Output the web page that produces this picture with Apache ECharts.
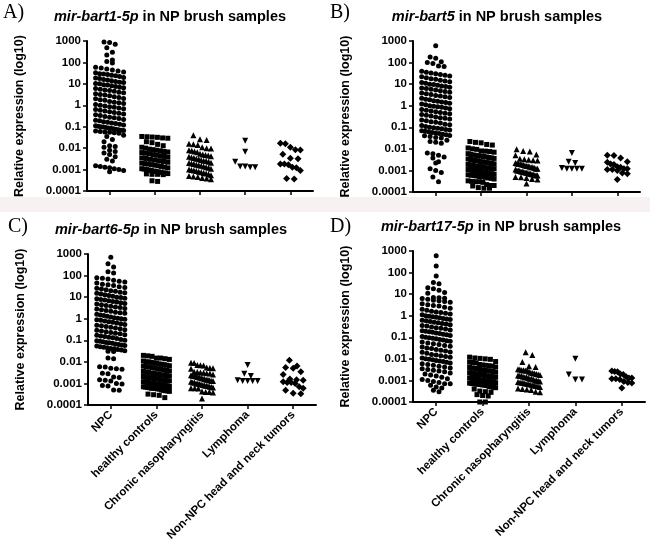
<!DOCTYPE html>
<html><head><meta charset="utf-8">
<script src="https://cdn.jsdelivr.net/npm/echarts@6/dist/echarts.min.js"></script>
<style>html,body{margin:0;padding:0;background:#fff}#c{width:650px;height:544px}</style>
</head><body><div id="c"></div>
<script>
// ---------- labels ----------
const categories = ['NPC', 'healthy controls', 'Chronic nasopharyngitis', 'Lymphoma', 'Non-NPC head and neck tumors'];
const yTickLabels = ['0.0001', '0.001', '0.01', '0.1', '1', '10', '100', '1000'];
const panelLetters = ['A)', 'B)', 'C)', 'D)'];
const panelGenes = ['mir-bart1-5p', 'mir-bart5', 'mir-bart6-5p', 'mir-bart17-5p'];
const panelSuffix = ' in NP brush samples';
const yAxisTitle = 'Relative expression (log10)';

// ---------- panel A: mir-bart1-5p ----------
const npcA = [900, 850, 700, 480, 300, 220, 130, 110, 95,
  60, 55, 50, 44, 40, 36, 33, 30, 29, 27, 25, 24, 22, 20, 19, 18, 16, 15, 14, 13, 12, 11.5, 10.5, 10,
  9.2, 8.8, 8.1, 7.6, 7, 6.5, 6.1, 5.6, 5.2, 4.9, 4.5, 4.1, 3.8, 3.5, 3.2, 3, 2.8, 2.5, 2.3, 2.1, 2, 1.8, 1.7, 1.5, 1.4, 1.3, 1.2, 1.1, 1,
  0.93, 0.86, 0.8, 0.74, 0.68, 0.63, 0.58, 0.54, 0.5, 0.46, 0.42, 0.39, 0.36, 0.33, 0.3, 0.28, 0.26, 0.24, 0.22, 0.2, 0.19, 0.17, 0.16, 0.15, 0.14, 0.13, 0.12, 0.11, 0.105, 0.1,
  0.097, 0.092, 0.088, 0.084, 0.08, 0.076, 0.072, 0.069, 0.066, 0.063, 0.06, 0.057, 0.055, 0.052, 0.05,
  0.04, 0.035, 0.025, 0.02, 0.013, 0.012, 0.011, 0.008, 0.007, 0.006, 0.005, 0.004, 0.003, 0.0025, 0.0015, 0.0014, 0.0013, 0.0012, 0.0011, 0.001, 0.0009, 0.0008];
const healthyA = [0.035, 0.034, 0.033, 0.032, 0.03, 0.029, 0.02, 0.018, 0.015, 0.013, 0.011, 0.01,
  0.009, 0.0085, 0.008, 0.0075, 0.007, 0.0066, 0.0062, 0.0058, 0.0055, 0.005, 0.0047, 0.0044, 0.0041, 0.0038, 0.0035, 0.0033, 0.003, 0.0028, 0.0026, 0.0024, 0.0022, 0.002, 0.0019, 0.0018, 0.0017, 0.0016, 0.0015, 0.0014, 0.0013, 0.0012, 0.0011, 0.00105, 0.001,
  0.00095, 0.0009, 0.00085, 0.0008, 0.00078, 0.00075, 0.0007, 0.00068, 0.00065, 0.00063, 0.0006, 0.0006, 0.00058,
  0.0003, 0.00028];
const chronicA = [0.04, 0.026, 0.024, 0.016, 0.015, 0.014, 0.011, 0.01, 0.0095, 0.008, 0.0075, 0.007, 0.0065,
  0.0055, 0.005, 0.0048, 0.0045, 0.0042, 0.004, 0.0037, 0.0035, 0.0032, 0.003, 0.0028, 0.0026, 0.0025, 0.0023, 0.0021, 0.002, 0.0019, 0.0018, 0.0017, 0.0016, 0.0015, 0.0014, 0.0013, 0.0012, 0.0011, 0.001,
  0.00095, 0.0009, 0.00085, 0.0008, 0.00075, 0.0007, 0.00065, 0.0006, 0.00055, 0.0005, 0.00048, 0.00045, 0.0004, 0.00038, 0.00035];
const lymphomaA = [0.022, 0.0067, 0.0023, 0.0014, 0.0014, 0.0013, 0.0013];
const nonNpcA = [0.017, 0.016, 0.011, 0.0085, 0.0082, 0.0052, 0.0034, 0.0032, 0.0018, 0.0018, 0.0017, 0.0013, 0.0012, 0.0009, 0.00038, 0.00036];

// ---------- panel B: mir-bart5 ----------
const npcB = [600, 180, 160, 110, 100, 90, 70, 65,
  40, 36, 33, 30, 28, 26, 24, 22, 20, 18, 17, 15, 14, 13, 12, 11, 10,
  9.5, 9, 8.3, 7.7, 7.2, 6.7, 6.2, 5.8, 5.3, 4.9, 4.6, 4.2, 3.9, 3.6, 3.3, 3, 2.8, 2.6, 2.4, 2.2, 2, 1.9, 1.7, 1.6, 1.5, 1.4, 1.3, 1.2, 1.1, 1,
  0.95, 0.9, 0.84, 0.78, 0.72, 0.67, 0.62, 0.57, 0.53, 0.49, 0.45, 0.42, 0.39, 0.36, 0.33, 0.3, 0.28, 0.26, 0.24, 0.22, 0.2, 0.18, 0.17, 0.16, 0.14, 0.13, 0.12, 0.11, 0.1,
  0.095, 0.09, 0.085, 0.08, 0.075, 0.07, 0.066, 0.062, 0.058, 0.055, 0.052, 0.048, 0.045, 0.042, 0.04, 0.037, 0.034, 0.032,
  0.025, 0.022, 0.02, 0.018, 0.0065, 0.006, 0.005, 0.0042, 0.0038, 0.0025, 0.0022, 0.0012, 0.001, 0.0008, 0.0005, 0.0003];
const healthyB = [0.022, 0.02, 0.019, 0.016, 0.015, 0.011, 0.01, 0.0095, 0.008, 0.0078, 0.0075, 0.007, 0.006, 0.0055, 0.0052, 0.005,
  0.0048, 0.0046, 0.0044, 0.0042, 0.004, 0.0038, 0.0036, 0.0034, 0.0032, 0.003, 0.0029, 0.0028, 0.0026, 0.0025, 0.0024, 0.0023, 0.0022, 0.0021, 0.002, 0.0019, 0.0018, 0.0017, 0.0016, 0.0015, 0.0015, 0.0014, 0.0013, 0.0013, 0.0012, 0.0012, 0.0011, 0.0011, 0.001, 0.001,
  0.00095, 0.0009, 0.0009, 0.00085, 0.0008, 0.0008, 0.00075, 0.0007, 0.0007, 0.00066, 0.00063, 0.0006, 0.00058, 0.00055, 0.00052, 0.0005, 0.00048, 0.00045, 0.00043, 0.0004,
  0.00033, 0.00031, 0.0003, 0.0003, 0.00028, 0.00022, 0.0002, 0.0002, 0.00019, 0.00016, 0.00015, 0.00015];
const chronicB = [0.0095, 0.008, 0.0075, 0.0055, 0.005, 0.0035, 0.0033, 0.0031, 0.003, 0.0029, 0.0022, 0.0021, 0.002, 0.002, 0.0019, 0.0018,
  0.0017, 0.0016, 0.0016, 0.0015, 0.0014, 0.0014, 0.0013, 0.0012, 0.0012, 0.0011, 0.001, 0.001, 0.00095, 0.0009, 0.00088, 0.00085, 0.0008, 0.00078, 0.00075, 0.0007, 0.0007, 0.00066, 0.00063, 0.0006, 0.0006, 0.00058,
  0.0005, 0.00048, 0.00045, 0.0004, 0.00038, 0.00025];
const lymphomaB = [0.0065, 0.0025, 0.0022, 0.0013, 0.0012, 0.0012, 0.0012, 0.0012];
const nonNpcB = [0.0051, 0.0049, 0.0038, 0.0025, 0.0024, 0.002, 0.0019, 0.0015, 0.0014, 0.0012, 0.0012, 0.0011, 0.0011, 0.001, 0.00076, 0.0007, 0.00038];

// ---------- panel C: mir-bart6-5p ----------
const npcC = [700, 350, 250, 150, 130, 80, 75, 70, 60, 55, 50, 45, 40, 38, 35,
  30, 28, 26, 24, 22, 20, 19, 17, 16, 15, 14, 13, 12, 11, 10,
  9.5, 9, 8.4, 7.8, 7.3, 6.8, 6.3, 5.9, 5.5, 5.1, 4.8, 4.4, 4.1, 3.8, 3.5, 3.3, 3, 2.8, 2.6, 2.4, 2.2, 2, 1.9, 1.8, 1.6, 1.5, 1.4, 1.3, 1.2, 1.1, 1.05, 1,
  0.95, 0.9, 0.84, 0.78, 0.73, 0.68, 0.63, 0.58, 0.54, 0.5, 0.47, 0.43, 0.4, 0.37, 0.34, 0.31, 0.29, 0.27, 0.25, 0.23, 0.21, 0.2, 0.18, 0.17, 0.16, 0.15, 0.14, 0.13, 0.12, 0.11, 0.1,
  0.095, 0.09, 0.085, 0.08, 0.076, 0.072, 0.068, 0.064, 0.06, 0.057, 0.054, 0.05, 0.047, 0.045, 0.042, 0.04, 0.037, 0.035, 0.033, 0.031, 0.03,
  0.015, 0.014, 0.006, 0.0058, 0.005, 0.0048, 0.0045, 0.003, 0.0028, 0.002, 0.0019, 0.0015, 0.0014, 0.0013, 0.001, 0.00095, 0.0008, 0.00075, 0.0005, 0.00048];
const healthyC = [0.02, 0.019, 0.018, 0.015, 0.015, 0.014, 0.013, 0.011, 0.01, 0.01, 0.0095, 0.009,
  0.0085, 0.008, 0.0077, 0.0074, 0.007, 0.0066, 0.0063, 0.006, 0.0057, 0.0054, 0.0051, 0.0048, 0.0045, 0.0043, 0.004, 0.0038, 0.0036, 0.0034, 0.0032, 0.003, 0.0029, 0.0028, 0.0026, 0.0025, 0.0024, 0.0023, 0.0022, 0.0021, 0.002, 0.0019, 0.0018, 0.0018, 0.0017, 0.0016, 0.0016, 0.0015, 0.0014, 0.0014, 0.0013, 0.0013, 0.0012, 0.0012, 0.0011, 0.0011, 0.001, 0.001,
  0.00097, 0.00093, 0.0009, 0.00087, 0.00084, 0.0008, 0.00078, 0.00075, 0.00072, 0.0007, 0.00068, 0.00065, 0.00063, 0.0006, 0.0006, 0.00058, 0.00056, 0.00055,
  0.0005, 0.00048, 0.00046, 0.00045, 0.00043, 0.00032, 0.0003, 0.00028, 0.00022];
const chronicC = [0.0092, 0.0088, 0.0072, 0.007, 0.0068, 0.0055, 0.0052, 0.005, 0.0048, 0.0035, 0.0034, 0.0032, 0.0031, 0.003, 0.0029,
  0.0026, 0.0024, 0.0023, 0.0022, 0.0021, 0.002, 0.0019, 0.0018, 0.0017, 0.0016, 0.0015, 0.0015, 0.0014, 0.0013, 0.0013, 0.0012, 0.0011, 0.0011, 0.001, 0.001,
  0.00095, 0.0009, 0.00085, 0.0008, 0.00078, 0.00075, 0.0007, 0.00068, 0.00065, 0.0006, 0.0006, 0.00058,
  0.00042, 0.0004, 0.0004, 0.00038, 0.0002];
const lymphomaC = [0.0071, 0.0028, 0.0022, 0.0014, 0.0013, 0.0013, 0.0013, 0.0013];
const nonNpcC = [0.012, 0.0065, 0.0055, 0.005, 0.0035, 0.0026, 0.0016, 0.0015, 0.0014, 0.0012, 0.0011, 0.0011, 0.001, 0.0007, 0.0006, 0.00048, 0.00035, 0.00033];

// ---------- panel D: mir-bart17-5p ----------
const npcD = [600, 200, 70, 35, 30, 20, 18, 15, 12, 11,
  7, 6.8, 6.5, 6.2, 5.8, 5.2, 5, 4.6, 4.2, 3.6, 3.2, 3, 2.8, 2.5, 2.2, 2, 1.8, 1.6, 1.5, 1.4, 1.3, 1.2, 1.1, 1,
  0.95, 0.9, 0.85, 0.8, 0.75, 0.7, 0.66, 0.62, 0.58, 0.54, 0.5, 0.47, 0.44, 0.41, 0.38, 0.35, 0.33, 0.3, 0.28, 0.26, 0.24, 0.22, 0.2, 0.19, 0.18, 0.17, 0.16, 0.15, 0.14, 0.13, 0.12, 0.11, 0.1,
  0.095, 0.09, 0.085, 0.08, 0.075, 0.07, 0.065, 0.06, 0.055, 0.05, 0.046, 0.042, 0.038, 0.035, 0.032, 0.03, 0.027, 0.025, 0.023, 0.021, 0.02, 0.018, 0.016, 0.015, 0.014, 0.013, 0.012, 0.011, 0.01,
  0.0095, 0.009, 0.0085, 0.008, 0.0075, 0.007, 0.0065, 0.006, 0.0055, 0.005, 0.0046, 0.0042, 0.0038, 0.0035, 0.0032, 0.003, 0.0027, 0.0025, 0.0022, 0.002, 0.0018, 0.0016, 0.0014, 0.0012, 0.0011, 0.001,
  0.0009, 0.0008, 0.0007, 0.0007, 0.0006, 0.0005, 0.00045, 0.00035, 0.0003];
const healthyD = [0.012, 0.011, 0.0105, 0.01, 0.0095, 0.0075, 0.007, 0.0068, 0.0065, 0.0055, 0.0052, 0.005, 0.0048, 0.0046,
  0.0042, 0.004, 0.0038, 0.0036, 0.0034, 0.0032, 0.003, 0.0029, 0.0028, 0.0027, 0.0026, 0.0024, 0.0023, 0.0022, 0.0021, 0.002, 0.002, 0.0019, 0.0018, 0.0018, 0.0017, 0.0016, 0.0016, 0.0015, 0.0015, 0.0014, 0.0014, 0.0013, 0.0013, 0.0012, 0.0012, 0.0012, 0.0011, 0.0011, 0.001, 0.001, 0.001,
  0.00096, 0.00093, 0.0009, 0.00088, 0.00085, 0.00082, 0.0008, 0.00078, 0.00075, 0.00072, 0.0007, 0.00068, 0.00066, 0.00064, 0.00062, 0.0006, 0.00058,
  0.00052, 0.0005, 0.00048, 0.00046, 0.0004, 0.00032, 0.0003, 0.00028, 0.00022, 0.0002, 0.00019, 0.0001, 0.0001];
const chronicD = [0.02, 0.015, 0.0072, 0.0045, 0.0042, 0.0033, 0.0032, 0.003, 0.003, 0.0029, 0.0028,
  0.0025, 0.0023, 0.0022, 0.0021, 0.002, 0.0019, 0.0018, 0.0017, 0.0016, 0.0016, 0.0015, 0.0014, 0.0014, 0.0013, 0.0012, 0.0012, 0.0011, 0.001, 0.001,
  0.00095, 0.0009, 0.00085, 0.0008, 0.00078, 0.00075, 0.0007, 0.00068, 0.00065, 0.0006, 0.00058, 0.00055, 0.00052, 0.0005,
  0.00042, 0.0004, 0.00038, 0.00036, 0.0003, 0.00028];
const lymphomaD = [0.0102, 0.0019, 0.0011, 0.0011];
const nonNpcD = [0.0027, 0.0026, 0.0025, 0.002, 0.0019, 0.0015, 0.0013, 0.0013, 0.0012, 0.0012, 0.0011, 0.0009, 0.0008, 0.00075, 0.00045];

const panelData = [
  [npcA, healthyA, chronicA, lymphomaA, nonNpcA],
  [npcB, healthyB, chronicB, lymphomaB, nonNpcB],
  [npcC, healthyC, chronicC, lymphomaC, nonNpcC],
  [npcD, healthyD, chronicD, lymphomaD, nonNpcD]
];

// ---------- layout / style ----------
const grids = [
  {left: 87, top: 41, width: 226, height: 150},
  {left: 413, top: 41, width: 227, height: 151},
  {left: 88, top: 254, width: 228, height: 151},
  {left: 413, top: 251, width: 232, height: 151}
];
const letterPos = [[3, 13], [330, 13], [8, 227], [330, 227]];
const titlePos = [[170, 17], [497, 17], [171, 230], [501, 227]];
const symbols = ['circle', 'rect', 'triangle', 'triangle', 'diamond'];
const symbolRot = [0, 0, 0, 180, 0];
const symbolSizes = [5, 5, 6, 6, 7];
const halfWidths = [14, 13, 11, 10, 10];
const FONT = '"Liberation Sans", Arial, sans-serif';

const chart = echarts.init(document.getElementById('c'), null, {renderer: 'canvas'});

const xAxes = [], yAxes = [];
grids.forEach((g, i) => {
  const showLabels = i >= 2;
  xAxes.push({
    type: 'category', gridIndex: i, data: categories, boundaryGap: true,
    axisLine: {show: true, onZero: false, lineStyle: {color: '#000', width: 2}},
    axisTick: {show: true, interval: 0, alignWithLabel: true, length: 4, lineStyle: {color: '#000', width: 1.5}},
    axisLabel: {show: showLabels, rotate: 45, interval: 0, margin: 8, color: '#000',
      fontWeight: 'bold', fontSize: 11.5, fontFamily: FONT, hideOverlap: false},
    splitLine: {show: false}
  });
  xAxes.push({type: 'value', gridIndex: i, min: -0.5, max: 4.5, show: false,
    axisLine: {show: false, onZero: false}, axisTick: {show: false}, axisLabel: {show: false}, splitLine: {show: false}});
  yAxes.push({
    type: 'log', logBase: 10, gridIndex: i, min: 0.0001, max: 1000,
    name: yAxisTitle, nameLocation: 'middle', nameRotate: 90, nameGap: 61,
    nameTextStyle: {color: '#000', fontWeight: 'bold', fontSize: 12.5, fontFamily: FONT},
    axisLine: {show: true, onZero: false, lineStyle: {color: '#000', width: 2}},
    axisTick: {show: true, length: 4, lineStyle: {color: '#000', width: 1.5}},
    axisLabel: {color: '#000', fontWeight: 'bold', fontSize: 11.5, fontFamily: FONT, margin: 6,
      formatter: v => yTickLabels[Math.round(Math.log10(v)) + 4]},
    splitLine: {show: false}, minorTick: {show: false}
  });
});

const graphics = [
  {type: 'rect', shape: {x: 0, y: 197, width: 650, height: 15}, style: {fill: '#f8f1f1'}, z: -1}
];
panelLetters.forEach((t, i) => {
  graphics.push({type: 'text', x: letterPos[i][0], y: letterPos[i][1],
    style: {text: t, font: '20px "Liberation Serif", "Times New Roman", serif', fill: '#000',
      align: 'left', verticalAlign: 'middle', textAlign: 'left', textVerticalAlign: 'middle'}});
  graphics.push({type: 'text', x: titlePos[i][0], y: titlePos[i][1],
    style: {text: '{i|' + panelGenes[i] + '}{n|' + panelSuffix + '}', fill: '#000',
      align: 'center', verticalAlign: 'middle', textAlign: 'center', textVerticalAlign: 'middle',
      rich: {
        i: {fontStyle: 'italic', fontWeight: 'bold', fontSize: 14.5, fontFamily: FONT, fill: '#000', color: '#000'},
        n: {fontWeight: 'bold', fontSize: 14.5, fontFamily: FONT, fill: '#000', color: '#000'}
      }}});
});

chart.setOption({
  backgroundColor: '#fff', animation: false,
  grid: grids.map(g => Object.assign({containLabel: false}, g)),
  xAxis: xAxes, yAxis: yAxes, graphic: graphics, series: []
});

// Prism-like dot plot layout: points binned into rows of one symbol height,
// spread horizontally around the category centre.
function swarm(values, gi, ci, size, maxHalf) {
  const finder = {xAxisIndex: gi * 2 + 1, yAxisIndex: gi};
  const unit = chart.convertToPixel(finder, [1, 1])[0] - chart.convertToPixel(finder, [0, 1])[0];
  const sorted = values.slice().sort((a, b) => b - a);
  const ys = sorted.map(v => chart.convertToPixel(finder, [ci, v])[1]);
  const out = [];
  let i = 0;
  while (i < sorted.length) {
    let j = i;
    while (j < sorted.length && ys[j] - ys[i] < size) j++;
    const n = j - i;
    let sp = size + 0.6;
    if (n > 1) sp = Math.min(sp, 2 * maxHalf / (n - 1));
    for (let k = 0; k < n; k++) {
      const off = (k - (n - 1) / 2) * sp;
      out.push([ci + off / unit, sorted[i + k]]);
    }
    i = j;
  }
  return out;
}

const series = [];
panelData.forEach((groups, gi) => {
  groups.forEach((vals, ci) => {
    series.push({
      type: 'scatter', xAxisIndex: gi * 2 + 1, yAxisIndex: gi,
      symbol: symbols[ci], symbolRotate: symbolRot[ci], symbolSize: symbolSizes[ci],
      itemStyle: {color: '#000', opacity: 1}, silent: true,
      data: swarm(vals, gi, ci, symbolSizes[ci], halfWidths[ci])
    });
  });
});
chart.setOption({series: series});
</script>
</body></html>
